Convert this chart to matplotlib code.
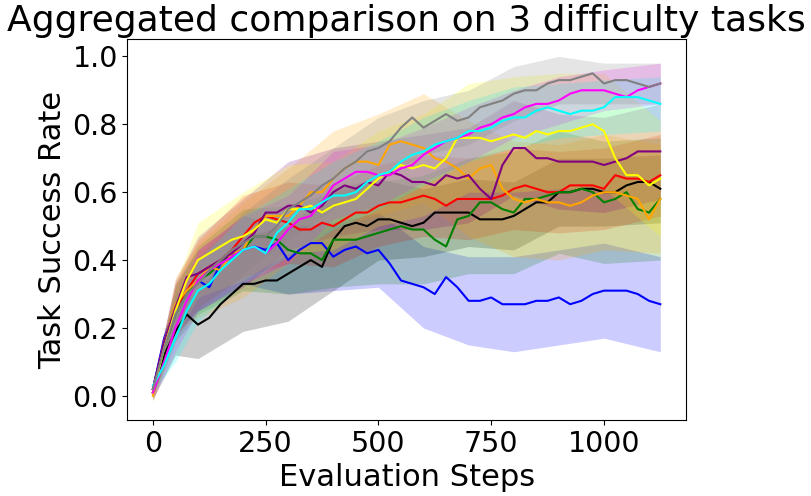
import numpy as np
import matplotlib
matplotlib.use("Agg")
import matplotlib.pyplot as plt

# evaluation steps (every 25) for the mean curves
steps = np.arange(0, 1126, 25)
# coarser steps for the shaded std bands
band_steps = [0, 50, 100, 200, 300, 400, 500, 600, 700, 800, 900, 1000, 1125]

blue = [0.02, 0.17, 0.26, 0.30, 0.34, 0.32, 0.39, 0.41, 0.43, 0.44, 0.43, 0.45, 0.40, 0.43, 0.45, 0.45,
        0.41, 0.43, 0.44, 0.42, 0.43, 0.39, 0.34, 0.33, 0.32, 0.30, 0.35, 0.32, 0.28, 0.28, 0.29, 0.27,
        0.27, 0.27, 0.28, 0.28, 0.29, 0.27, 0.28, 0.30, 0.31, 0.31, 0.31, 0.30, 0.28, 0.27]
black = [0.01, 0.12, 0.19, 0.24, 0.21, 0.23, 0.27, 0.30, 0.33, 0.33, 0.34, 0.34, 0.36, 0.38, 0.40, 0.38,
         0.46, 0.50, 0.51, 0.50, 0.52, 0.52, 0.51, 0.50, 0.51, 0.54, 0.54, 0.54, 0.54, 0.52, 0.52, 0.52,
         0.53, 0.55, 0.57, 0.57, 0.60, 0.60, 0.61, 0.61, 0.60, 0.60, 0.62, 0.63, 0.63, 0.61]
red = [0.02, 0.15, 0.25, 0.31, 0.36, 0.38, 0.40, 0.43, 0.47, 0.51, 0.53, 0.52, 0.51, 0.49, 0.49, 0.51,
       0.50, 0.52, 0.54, 0.54, 0.56, 0.57, 0.57, 0.58, 0.59, 0.58, 0.56, 0.58, 0.58, 0.58, 0.58, 0.59,
       0.61, 0.62, 0.61, 0.60, 0.60, 0.62, 0.62, 0.62, 0.61, 0.65, 0.64, 0.64, 0.63, 0.65]
green = [0.01, 0.14, 0.24, 0.30, 0.34, 0.36, 0.39, 0.42, 0.43, 0.47, 0.47, 0.46, 0.43, 0.42, 0.42, 0.40,
         0.46, 0.46, 0.46, 0.47, 0.48, 0.49, 0.50, 0.49, 0.49, 0.46, 0.44, 0.52, 0.53, 0.57, 0.57, 0.55,
         0.54, 0.58, 0.58, 0.59, 0.60, 0.60, 0.61, 0.60, 0.57, 0.58, 0.60, 0.55, 0.54, 0.58]
purple = [0.02, 0.16, 0.26, 0.35, 0.36, 0.38, 0.40, 0.42, 0.45, 0.48, 0.54, 0.54, 0.56, 0.56, 0.54, 0.56,
          0.60, 0.62, 0.61, 0.63, 0.62, 0.66, 0.65, 0.63, 0.63, 0.62, 0.65, 0.64, 0.65, 0.61, 0.58, 0.68,
          0.73, 0.73, 0.70, 0.70, 0.69, 0.69, 0.69, 0.69, 0.68, 0.69, 0.70, 0.72, 0.72, 0.72]
magenta = [0.01, 0.10, 0.20, 0.28, 0.34, 0.37, 0.39, 0.41, 0.43, 0.44, 0.42, 0.45, 0.49, 0.52, 0.53, 0.57,
           0.62, 0.64, 0.66, 0.66, 0.65, 0.65, 0.67, 0.68, 0.71, 0.73, 0.75, 0.76, 0.77, 0.79, 0.80, 0.82,
           0.83, 0.85, 0.86, 0.86, 0.87, 0.89, 0.90, 0.90, 0.90, 0.89, 0.88, 0.90, 0.91, 0.92]
cyan = [0.03, 0.09, 0.17, 0.25, 0.31, 0.33, 0.37, 0.40, 0.43, 0.44, 0.42, 0.48, 0.51, 0.55, 0.55, 0.57,
        0.59, 0.59, 0.60, 0.63, 0.65, 0.66, 0.69, 0.71, 0.72, 0.74, 0.75, 0.76, 0.78, 0.78, 0.79, 0.81,
        0.82, 0.82, 0.84, 0.85, 0.84, 0.83, 0.84, 0.84, 0.85, 0.88, 0.88, 0.88, 0.87, 0.86]
yellow = [0.01, 0.14, 0.25, 0.34, 0.40, 0.42, 0.44, 0.46, 0.47, 0.49, 0.52, 0.51, 0.55, 0.55, 0.56, 0.54,
          0.56, 0.57, 0.58, 0.61, 0.64, 0.66, 0.68, 0.67, 0.68, 0.67, 0.70, 0.76, 0.76, 0.76, 0.75, 0.76,
          0.77, 0.76, 0.78, 0.77, 0.78, 0.78, 0.79, 0.80, 0.78, 0.70, 0.65, 0.65, 0.62, 0.64]
orange = [0.00, 0.16, 0.27, 0.31, 0.34, 0.38, 0.37, 0.42, 0.43, 0.49, 0.53, 0.53, 0.53, 0.56, 0.60, 0.60,
          0.64, 0.67, 0.69, 0.69, 0.68, 0.74, 0.75, 0.74, 0.73, 0.70, 0.69, 0.67, 0.64, 0.67, 0.68, 0.61,
          0.58, 0.57, 0.58, 0.57, 0.57, 0.56, 0.57, 0.59, 0.60, 0.60, 0.59, 0.58, 0.52, 0.58]
gray = [0.02, 0.14, 0.24, 0.30, 0.33, 0.37, 0.40, 0.43, 0.45, 0.47, 0.47, 0.50, 0.55, 0.57, 0.59, 0.62,
        0.64, 0.67, 0.69, 0.72, 0.73, 0.75, 0.79, 0.82, 0.79, 0.81, 0.83, 0.81, 0.82, 0.85, 0.86, 0.87,
        0.89, 0.90, 0.90, 0.92, 0.93, 0.93, 0.94, 0.95, 0.92, 0.93, 0.93, 0.92, 0.91, 0.92]

# std of each curve at band_steps
blue_std = [0.02, 0.07, 0.09, 0.10, 0.10, 0.10, 0.11, 0.12, 0.13, 0.14, 0.14, 0.14, 0.14]
black_std = [0.02, 0.07, 0.10, 0.14, 0.14, 0.15, 0.12, 0.10, 0.10, 0.10, 0.10, 0.10, 0.10]
red_std = [0.02, 0.08, 0.10, 0.12, 0.12, 0.12, 0.12, 0.12, 0.12, 0.12, 0.12, 0.12, 0.12]
green_std = [0.02, 0.08, 0.10, 0.12, 0.13, 0.14, 0.15, 0.16, 0.17, 0.18, 0.18, 0.18, 0.18]
purple_std = [0.02, 0.08, 0.11, 0.13, 0.13, 0.13, 0.13, 0.14, 0.14, 0.14, 0.14, 0.14, 0.14]
magenta_std = [0.02, 0.07, 0.09, 0.10, 0.10, 0.10, 0.09, 0.08, 0.08, 0.07, 0.07, 0.06, 0.06]
cyan_std = [0.02, 0.07, 0.09, 0.10, 0.10, 0.10, 0.10, 0.10, 0.09, 0.09, 0.08, 0.08, 0.08]
yellow_std = [0.02, 0.08, 0.11, 0.13, 0.13, 0.13, 0.14, 0.15, 0.16, 0.17, 0.17, 0.17, 0.17]
orange_std = [0.02, 0.08, 0.11, 0.14, 0.14, 0.14, 0.15, 0.16, 0.17, 0.17, 0.17, 0.17, 0.16]
gray_std = [0.02, 0.06, 0.08, 0.09, 0.09, 0.09, 0.09, 0.08, 0.08, 0.08, 0.07, 0.06, 0.06]

series = [
    ("blue", blue, blue_std),
    ("black", black, black_std),
    ("red", red, red_std),
    ("green", green, green_std),
    ("orange", orange, orange_std),
    ("purple", purple, purple_std),
    ("yellow", yellow, yellow_std),
    ("magenta", magenta, magenta_std),
    ("cyan", cyan, cyan_std),
    ("gray", gray, gray_std),
]

fig = plt.figure(figsize=(8.11, 4.96), dpi=100)
ax = fig.add_axes([0.1572, 0.1532, 0.6883, 0.7681])

band_idx = [list(steps).index(s) for s in band_steps]
for color, mean, std in series:
    mean = np.array(mean)
    m = mean[band_idx]
    sd = np.array(std)
    ax.fill_between(band_steps, m - sd, m + sd, color=color, alpha=0.2, linewidth=0)

for color, mean, std in series:
    ax.plot(steps, mean, color=color, linewidth=1.5)

ax.set_yticks([0.0, 0.2, 0.4, 0.6, 0.8, 1.0])
ax.set_xticks([0, 250, 500, 750, 1000])
ax.tick_params(labelsize=20.5)
ax.set_xlabel("Evaluation Steps", fontsize=22)
ax.set_ylabel("Task Success Rate", fontsize=22)
ax.set_title("Aggregated comparison on 3 difficulty tasks", fontsize=26)

fig.savefig("out.png", dpi=100)
